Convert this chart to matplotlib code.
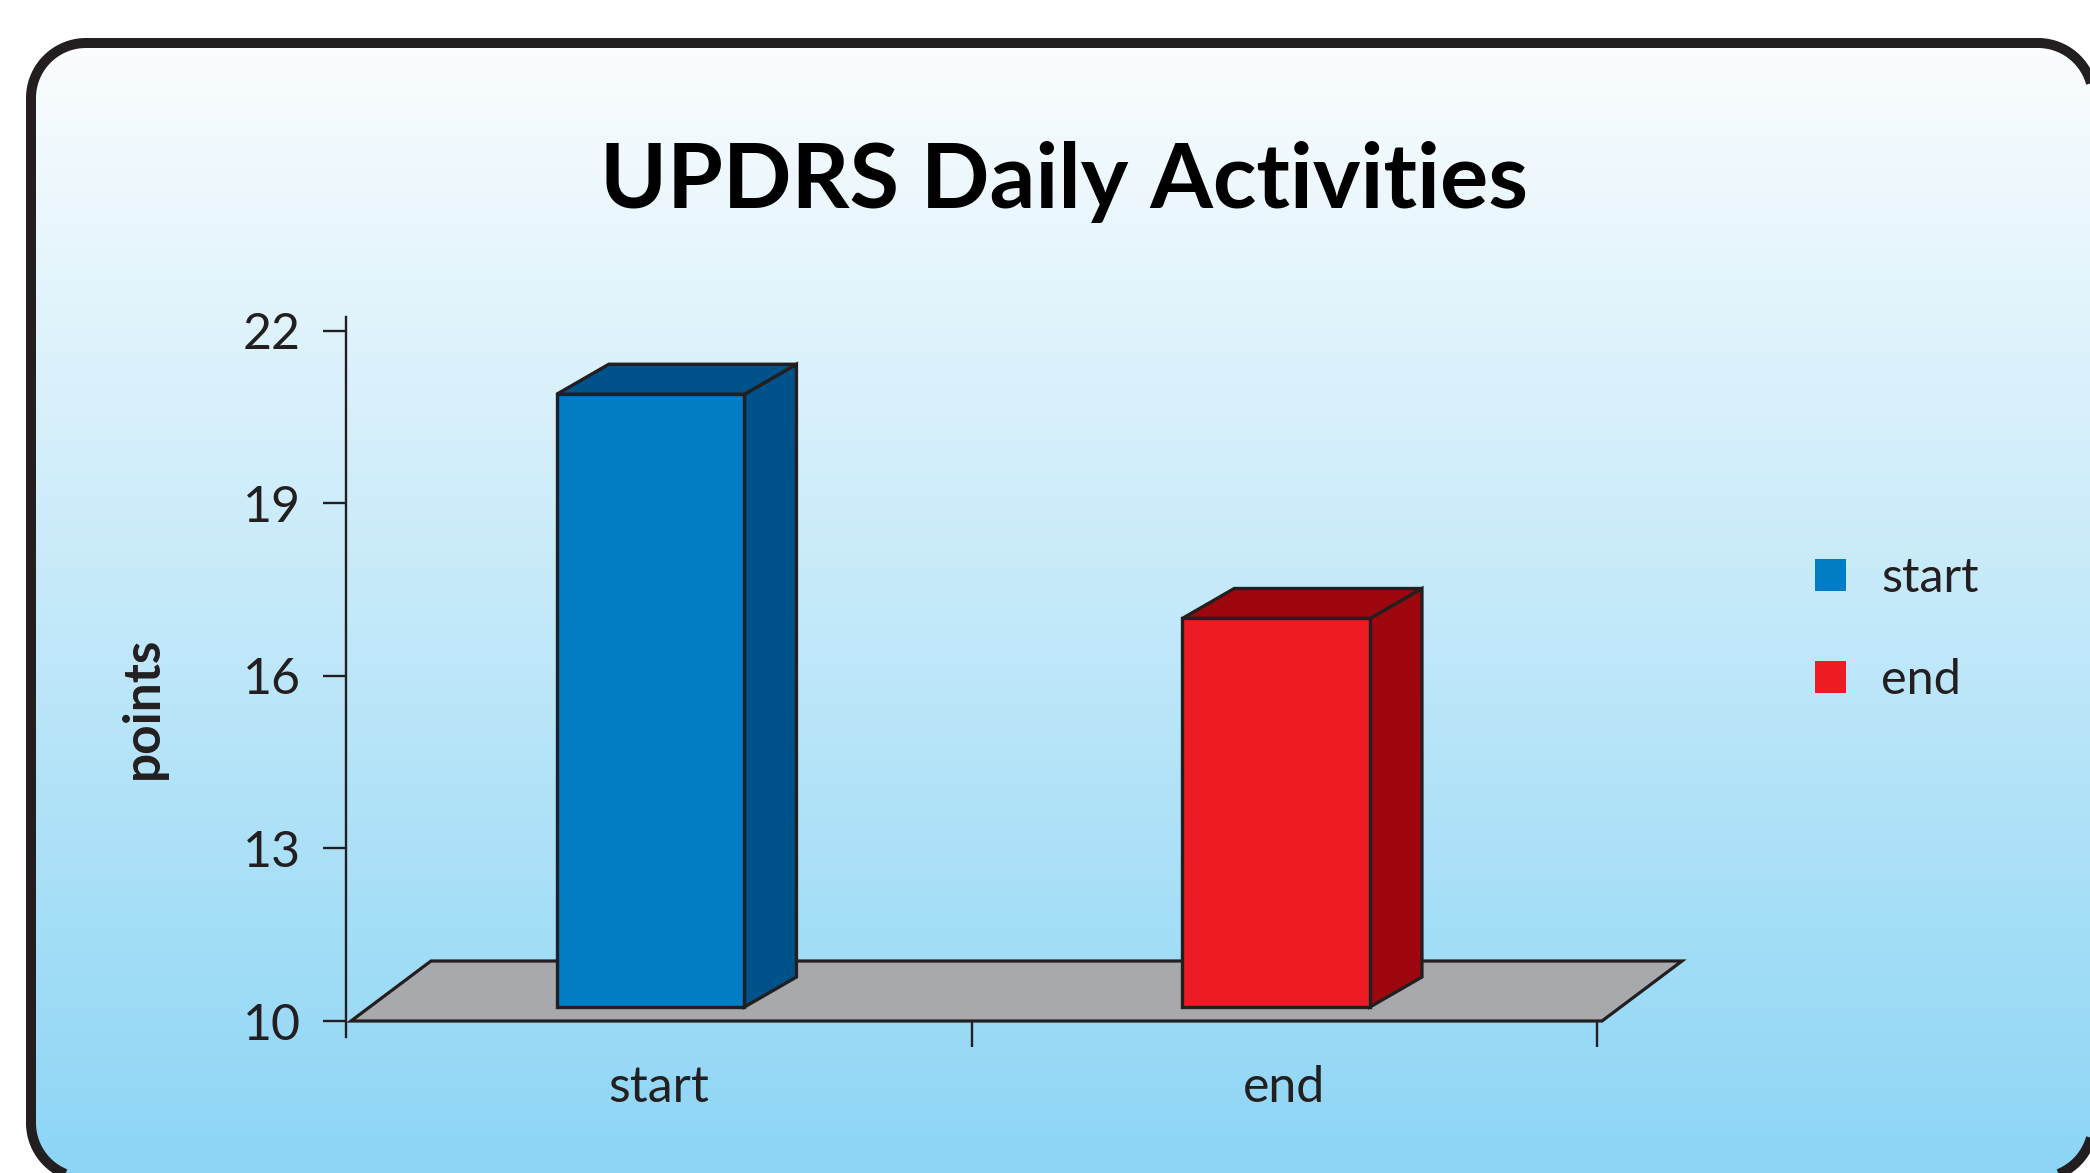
import numpy as np
import matplotlib
matplotlib.use("Agg")
import matplotlib.pyplot as plt
from matplotlib.patches import Polygon, Patch

# ---- data ----
categories = ["start", "end"]
values = [20.9, 17.0]
y_ticks = [10, 13, 16, 19, 22]
title = "UPDRS Daily Activities"
y_label = "points"

# ---- style ----
W, H = 2090, 1173
DPI = 100
FONT = "Lato"
TXT = "#231f20"
EDGE = "#231f20"
front_colors = ["#007dc5", "#ed1c24"]
dark_colors = ["#00538a", "#9e070e"]
FLOOR = "#a7a9ac"
BAR_W = 0.30
BAR_SHIFT = -0.013
BAR_DEPTH_PX = (52, 30)
FLOOR_DEPTH_PX = (80, 60)
BAR_BASE_PX = 14
FLOOR_SHIFT_PX = 5

plt.rcParams["font.family"] = [FONT, "DejaVu Sans"]


def rounded_rect(x0, y0, x1, y1, r, n=40):
    pts = []
    corners = [(x1 - r, y1 - r, 0), (x0 + r, y1 - r, 90),
               (x0 + r, y0 + r, 180), (x1 - r, y0 + r, 270)]
    for cx, cy, a0 in corners:
        a = np.radians(np.linspace(a0, a0 + 90, n))
        pts.extend(zip(cx + r * np.cos(a), cy + r * np.sin(a)))
    return np.array(pts)


fig = plt.figure(figsize=(W / DPI, H / DPI), dpi=DPI)

# background with rounded border and vertical gradient (pixel units, y up)
bg = fig.add_axes([0, 0, 1, 1], zorder=-5)
bg.axis("off")
top_c = np.array([251, 253, 254]) / 255
bot_c = np.array([140, 213, 245]) / 255
t = np.linspace(0, 1, 256)[:, None]
grad = (top_c[None, :] * (1 - t) + bot_c[None, :] * t)[:, None, :]
bx0, bx1 = 31, 2093
by0, by1 = H - 1178, H - 43
im = bg.imshow(grad, extent=[bx0, bx1, by0, by1], origin="upper",
               aspect="auto", zorder=1)
bg.set_xlim(0, W)
bg.set_ylim(0, H)
rr = rounded_rect(bx0, by0, bx1, by1, 55)
clip = Polygon(rr, closed=True, transform=bg.transData, facecolor="none",
               edgecolor="none")
bg.add_patch(clip)
im.set_clip_path(clip)
box = Polygon(rr, closed=True, facecolor="none", edgecolor=EDGE, linewidth=7.2,
              transform=bg.transData, zorder=3, clip_on=False)
bg.add_patch(box)

# main axes
ax_left, ax_right = 346, 1597
ax_top, ax_bot = 331, 1021
ax = fig.add_axes([ax_left / W, (H - ax_bot) / H,
                   (ax_right - ax_left) / W, (ax_bot - ax_top) / H])
ax.patch.set_alpha(0)
n = len(categories)
ax.set_xlim(0, n)
ax.set_ylim(y_ticks[0], y_ticks[-1])

px_x = (ax_right - ax_left) / n
px_y = (ax_bot - ax_top) / (y_ticks[-1] - y_ticks[0])
y0 = y_ticks[0]

# floor
fdx = FLOOR_DEPTH_PX[0] / px_x
fdy = FLOOR_DEPTH_PX[1] / px_y
fs = FLOOR_SHIFT_PX / px_x
floor = Polygon([(fs, y0), (n + fs, y0), (n + fs + fdx, y0 + fdy), (fs + fdx, y0 + fdy)],
                closed=True, facecolor=FLOOR, edgecolor=EDGE, linewidth=2.3,
                clip_on=False, zorder=1, joinstyle="miter")
ax.add_patch(floor)

# bars
base = y0 + BAR_BASE_PX / px_y
xs = np.arange(n) + 0.5 + BAR_SHIFT
heights = np.array(values) - base
bars = ax.bar(xs, heights, bottom=base, width=BAR_W, color=front_colors,
              edgecolor=EDGE, linewidth=2.4, zorder=4, clip_on=False)
bdx = BAR_DEPTH_PX[0] / px_x
bdy = BAR_DEPTH_PX[1] / px_y
for rect, dc in zip(bars, dark_colors):
    x0 = rect.get_x()
    x1 = x0 + rect.get_width()
    yb = rect.get_y()
    yt = yb + rect.get_height()
    side = Polygon([(x1, yb), (x1 + bdx, yb + bdy), (x1 + bdx, yt + bdy), (x1, yt)],
                   closed=True, facecolor=dc, edgecolor=EDGE, linewidth=2.4,
                   clip_on=False, zorder=3)
    top = Polygon([(x0, yt), (x1, yt), (x1 + bdx, yt + bdy), (x0 + bdx, yt + bdy)],
                  closed=True, facecolor=dc, edgecolor=EDGE, linewidth=2.4,
                  clip_on=False, zorder=3)
    ax.add_patch(side)
    ax.add_patch(top)

# axes styling
for s in ["top", "right", "bottom"]:
    ax.spines[s].set_visible(False)
ax.spines["left"].set_bounds(y0 - 16 / px_y, y_ticks[-1] + 14 / px_y)
ax.spines["left"].set_linewidth(1.7)
ax.spines["left"].set_color(EDGE)
ax.set_yticks(y_ticks)
ax.set_yticklabels([str(v) for v in y_ticks])
ax.tick_params(axis="y", direction="out", length=16.5, width=1.7, color=EDGE,
               pad=16, labelsize=36, labelcolor=TXT)
ax.set_xticks(np.arange(1, n + 1))
ax.set_xticklabels([])
ax.tick_params(axis="x", which="major", direction="out", length=18.5, width=1.7,
               color=EDGE)
ax.set_xticks(np.arange(n) + 0.5, minor=True)
ax.set_xticklabels(categories, minor=True)
ax.tick_params(axis="x", which="minor", length=0, pad=32, labelsize=36,
               labelcolor=TXT)

# title and y label
fig.text(1064 / W, 1 - 182 / H, title, ha="center", va="center",
         fontsize=65, fontweight="bold", color="black")
fig.text(143 / W, 1 - 708 / H, y_label, ha="center", va="center", rotation=90,
         fontsize=37, fontweight="bold", color=TXT)

# legend
handles = [Patch(facecolor=c, edgecolor="none") for c in front_colors]
leg = ax.legend(handles, categories, loc="upper left",
                bbox_to_anchor=(1815 / W, 1 - 556 / H),
                bbox_transform=fig.transFigure, frameon=False,
                fontsize=35, handlelength=0.64, handleheight=0.64,
                handletextpad=0.72, labelspacing=1.2, borderpad=0,
                borderaxespad=0)
for txt in leg.get_texts():
    txt.set_color(TXT)

fig.savefig("out.png", dpi=DPI)
